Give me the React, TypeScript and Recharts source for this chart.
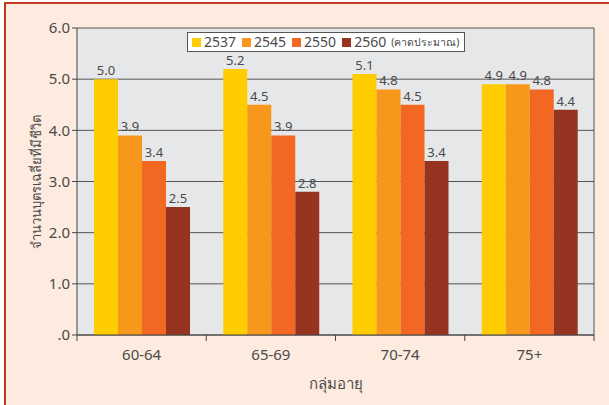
import { BarChart, Bar, XAxis, YAxis, CartesianGrid, Legend, LabelList, Label } from 'recharts'

const AGE_GROUPS = ['60-64', '65-69', '70-74', '75+']
const Y_TICKS = [0, 1, 2, 3, 4, 5, 6]

const Y2537 = [5.0, 5.2, 5.1, 4.9]
const Y2545 = [3.9, 4.5, 4.8, 4.9]
const Y2550 = [3.4, 3.9, 4.5, 4.8]
const Y2560 = [2.5, 2.8, 3.4, 4.4]

const SERIES = [
  { key: 'y2537', name: '2537', note: '', values: Y2537, color: '#ffcc00' },
  { key: 'y2545', name: '2545', note: '', values: Y2545, color: '#f7981d' },
  { key: 'y2550', name: '2550', note: '', values: Y2550, color: '#f26722' },
  { key: 'y2560', name: '2560', note: '(คาดประมาณ)', values: Y2560, color: '#973421' },
]

const data = AGE_GROUPS.map((group, i) => {
  const row: Record<string, string | number> = { group }
  SERIES.forEach((s) => {
    row[s.key] = s.values[i]
  })
  return row
})

const FONT = '"Noto Sans", "Open Sans", sans-serif'
const TEXT = '#4a4a4a'
const AXIS = '#444'

// category label centred in its band, with tick marks on the band edges
function AgeTick(props: any) {
  const { x, y, payload, index, width, visibleTicksCount } = props
  const band = width / visibleTicksCount
  const left = x - band / 2
  return (
    <g>
      <line x1={left} y1={y - 8} x2={left} y2={y - 2} stroke={AXIS} />
      {index === visibleTicksCount - 1 && (
        <line x1={left + band} y1={y - 8} x2={left + band} y2={y - 2} stroke={AXIS} />
      )}
      <text x={x} y={y + 17} textAnchor="middle" fill={TEXT} fontSize={15} fontFamily={FONT}>
        {payload.value}
      </text>
    </g>
  )
}

function LegendBox() {
  return (
    <div
      style={{
        display: 'flex',
        alignItems: 'center',
        gap: 6,
        background: '#fff',
        border: '1.5px solid #555',
        padding: '1px 4px 1px 4px',
        fontFamily: FONT,
        color: TEXT,
        fontSize: 14,
        lineHeight: '16px',
        whiteSpace: 'nowrap',
      }}
    >
      {SERIES.map((s) => (
        <span key={s.key} style={{ display: 'flex', alignItems: 'center', gap: 3 }}>
          <span style={{ width: 9, height: 9, background: s.color, display: 'inline-block' }} />
          {s.name}
          {s.note && <span style={{ fontSize: 10.5, marginLeft: 2 }}>{s.note}</span>}
        </span>
      ))}
    </div>
  )
}

export default function App() {
  return (
    <div style={{ position: 'absolute', left: 0, top: 0, width: 609, height: 405, background: '#fff', overflow: 'hidden' }}>
      <div
        style={{
          position: 'absolute',
          left: 4,
          top: 2,
          width: 605,
          height: 403,
          boxSizing: 'border-box',
          background: '#fdebdf',
          borderLeft: '2px solid #c13a1f',
          borderTop: '2px solid #c13a1f',
        }}
      />
      <div style={{ position: 'absolute', left: 0, top: 0 }}>
        <BarChart
          width={609}
          height={405}
          data={data}
          margin={{ top: 28, right: 15, bottom: 10, left: 0 }}
          barCategoryGap={17}
          barGap={0}
        >
          <CartesianGrid
            fill="#e6e7e9"
            stroke="#555"
            strokeOpacity={1}
            horizontalValues={Y_TICKS}
            verticalCoordinatesGenerator={({ offset }: any) => [offset.left + offset.width]}
          />
          <XAxis
            dataKey="group"
            height={60}
            axisLine={{ stroke: AXIS }}
            tickLine={false}
            interval={0}
            tick={<AgeTick />}
          >
            <Label
              value="กลุ่มอายุ"
              position="insideBottom"
              offset={6}
              fill={TEXT}
              fontSize={15}
              fontFamily={FONT}
            />
          </XAxis>
          <YAxis
            width={77}
            domain={[0, 6]}
            ticks={Y_TICKS}
            interval={0}
            axisLine={{ stroke: AXIS }}
            tickLine={{ stroke: AXIS }}
            tickSize={5}
            tickFormatter={(v: number) => (v === 0 ? '.0' : v.toFixed(1))}
            tick={{ fill: TEXT, fontSize: 15, fontFamily: FONT }}
          >
            <Label
              value="จำนวนบุตรเฉลี่ยที่มีชีวิต"
              angle={-90}
              position="insideLeft"
              offset={36}
              style={{ textAnchor: 'middle' }}
              fill={TEXT}
              fontSize={13}
              fontFamily={FONT}
            />
          </YAxis>
          <Legend
            layout="horizontal"
            verticalAlign="middle"
            align="center"
            wrapperStyle={{ top: 32, left: 187, width: 'auto', height: 'auto' }}
            content={() => <LegendBox />}
          />
          {SERIES.map((s) => (
            <Bar key={s.key} dataKey={s.key} name={s.name} fill={s.color} isAnimationActive={false}>
              <LabelList
                dataKey={s.key}
                position="top"
                offset={4}
                fill={TEXT}
                fontSize={13}
                fontFamily={FONT}
                formatter={(v: any) => Number(v).toFixed(1)}
              />
            </Bar>
          ))}
        </BarChart>
      </div>
    </div>
  )
}
